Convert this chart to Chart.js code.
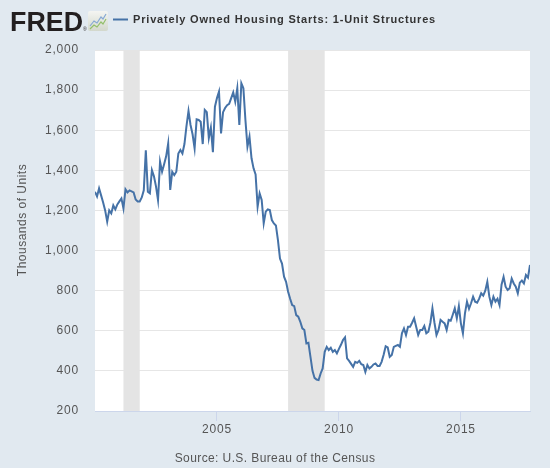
<!DOCTYPE html>
<html>
<head>
<meta charset="utf-8">
<script src="https://cdn.jsdelivr.net/npm/chart.js@4.4.0/dist/chart.umd.min.js"></script>
<style>
  html, body { margin: 0; padding: 0; background: #e1e9f0; }
  canvas { display: block; }
</style>
</head>
<body>
<canvas id="myChart" width="550" height="468"></canvas>
<script>
// monthly series, Jan 2000 .. Nov 2017 (thousands of units, SAAR)
const startYear = 2000;
const housingStarts = [
	1293, 1270, 1310, 1275, 1240, 1200, 1144, 1200, 1185, 1225, 1205, 1230, // 2000
	1245, 1260, 1210, 1305, 1290, 1300, 1295, 1290, 1255, 1245, 1245, 1265, // 2001
	1300, 1500, 1293, 1285, 1401, 1370, 1320, 1252, 1443, 1393, 1430, 1470, // 2002
	1534, 1302, 1393, 1376, 1393, 1484, 1501, 1484, 1531, 1620, 1696, 1626, // 2003
	1580, 1510, 1654, 1651, 1642, 1531, 1701, 1690, 1561, 1613, 1490, 1717, // 2004
	1760, 1792, 1584, 1690, 1711, 1725, 1731, 1760, 1789, 1742, 1809, 1626, // 2005
	1834, 1809, 1651, 1518, 1568, 1460, 1410, 1380, 1219, 1285, 1252, 1136, // 2006
	1194, 1205, 1202, 1152, 1135, 1125, 1052, 960, 935, 870, 844, 795,      // 2007
	760, 728, 723, 678, 670, 645, 612, 604, 537, 540, 470, 400,             // 2008
	365, 357, 354, 387, 412, 495, 520, 504, 515, 495, 504, 487,             // 2009
	510, 530, 554, 567, 462, 450, 435, 420, 445, 440, 450, 433,             // 2010
	429, 395, 429, 412, 420, 432, 437, 425, 425, 445, 480, 523,             // 2011
	517, 470, 479, 520, 525, 529, 520, 587, 612, 579, 620, 620,             // 2012
	640, 662, 620, 579, 604, 604, 624, 587, 595, 640, 712, 640,             // 2013
	579, 604, 654, 645, 637, 604, 654, 650, 680, 712, 662, 723,             // 2014
	637, 587, 687, 745, 710, 737, 770, 745, 740, 760, 787, 775,             // 2015
	800, 844, 770, 728, 770, 745, 760, 728, 830, 869, 820, 803,             // 2016
	812, 860, 836, 820, 787, 840, 850, 836, 878, 865, 928                   // 2017
];

// recessions as [start, end] in fractional years
const recessionStarts = [2001 + 2 / 12, 2007 + 11 / 12];
const recessionEnds = [2001 + 10 / 12, 2009 + 5 / 12];

const yearTicks = [2005, 2010, 2015];
const yMin = 200;
const yMax = 2000;
const yStep = 200;

const seriesTitle = 'Privately Owned Housing Starts: 1-Unit Structures';
const yTitle = 'Thousands of Units';
const sourceText = 'Source: U.S. Bureau of the Census';

const points = housingStarts.map((v, i) => ({ x: startYear + i / 12, y: v }));
const lastX = startYear + (housingStarts.length - 1) / 12;

const bgColor = '#e1e9f0';
const lineColor = '#4572a7';
const textColor = '#555555';

// draws background, recessions and the FRED header/footer
const fredDecor = {
	id: 'fredDecor',
	beforeDraw(chart) {
		const { ctx, chartArea } = chart;
		ctx.save();
		ctx.fillStyle = bgColor;
		ctx.fillRect(0, 0, chart.width, chart.height);
		ctx.fillStyle = '#ffffff';
		ctx.fillRect(chartArea.left, chartArea.top, chartArea.right - chartArea.left, chartArea.bottom - chartArea.top);
		ctx.restore();
		ctx.letterSpacing = '0.8px';
	},
	beforeDatasetsDraw(chart) {
		const { ctx, chartArea, scales } = chart;
		ctx.save();
		ctx.fillStyle = '#e4e4e4';
		recessionStarts.forEach((s, i) => {
			const x0 = scales.x.getPixelForValue(s);
			const x1 = scales.x.getPixelForValue(recessionEnds[i]);
			ctx.fillRect(x0, chartArea.top, x1 - x0, chartArea.bottom - chartArea.top);
		});
		ctx.restore();
	},
	afterDraw(chart) {
		const { ctx } = chart;
		ctx.save();

		// FRED logo
		ctx.letterSpacing = '0px';
		ctx.fillStyle = '#231f20';
		ctx.font = 'bold 27px "Liberation Sans", Arial, sans-serif';
		ctx.textBaseline = 'alphabetic';
		ctx.textAlign = 'left';
		const logoW = ctx.measureText('FRED').width;
		ctx.save();
		ctx.translate(10, 31);
		ctx.scale(73 / logoW, 1);
		ctx.fillText('FRED', 0, 0);
		ctx.restore();
		ctx.font = '5px "Liberation Sans", sans-serif';
		ctx.fillText('®', 83, 31);

		// small graph icon
		const g = ctx.createLinearGradient(0, 11, 0, 31);
		g.addColorStop(0, '#f4f5f2');
		g.addColorStop(1, '#d3d8cc');
		ctx.fillStyle = g;
		ctx.beginPath();
		ctx.roundRect(88, 11, 20, 20, 2);
		ctx.fill();
		ctx.lineWidth = 1.2;
		ctx.strokeStyle = '#86a9d3';
		ctx.beginPath();
		ctx.moveTo(90, 26); ctx.lineTo(94, 21); ctx.lineTo(97, 23); ctx.lineTo(101, 17); ctx.lineTo(103, 19); ctx.lineTo(106, 14);
		ctx.stroke();
		ctx.strokeStyle = '#93bf6b';
		ctx.beginPath();
		ctx.moveTo(90, 29); ctx.lineTo(94, 25); ctx.lineTo(97, 27); ctx.lineTo(101, 22); ctx.lineTo(103, 24); ctx.lineTo(106, 19);
		ctx.stroke();

		// legend line + series title
		ctx.strokeStyle = lineColor;
		ctx.lineWidth = 2;
		ctx.beginPath();
		ctx.moveTo(113, 19.5);
		ctx.lineTo(128, 19.5);
		ctx.stroke();

		ctx.fillStyle = '#333333';
		ctx.font = 'bold 11px "Liberation Sans", Arial, sans-serif';
		ctx.textBaseline = 'middle';
		const rawW = ctx.measureText(seriesTitle).width;
		const ls = (302 - rawW) / (seriesTitle.length - 1);
		ctx.letterSpacing = ls.toFixed(2) + 'px';
		ctx.fillText(seriesTitle, 133, 20);

		// y axis title
		ctx.letterSpacing = '0.5px';
		ctx.fillStyle = textColor;
		ctx.font = '12px "Liberation Sans", Arial, sans-serif';
		ctx.textAlign = 'center';
		ctx.save();
		ctx.translate(23, 220);
		ctx.rotate(-Math.PI / 2);
		ctx.fillText(yTitle, 0, 0);
		ctx.restore();

		// source
		ctx.letterSpacing = '0.4px';
		ctx.fillText(sourceText, 275, 459);

		ctx.restore();
		ctx.letterSpacing = '0.8px';
	}
};

const data = {
	datasets: [{
		label: seriesTitle,
		data: points,
		borderColor: lineColor,
		backgroundColor: lineColor,
		borderWidth: 2,
		pointRadius: 0,
		tension: 0
	}]
};

const config = {
	type: 'line',
	data,
	options: {
		responsive: false,
		animation: false,
		layout: { padding: { top: 50, right: 20, left: 0, bottom: 0 } },
		plugins: {
			legend: { display: false },
			tooltip: { enabled: false }
		},
		scales: {
			x: {
				type: 'linear',
				min: startYear,
				max: lastX,
				afterBuildTicks(scale) {
					scale.ticks = yearTicks.map(v => ({ value: v }));
				},
				afterFit(scale) {
					scale.height = 57;
				},
				ticks: {
					autoSkip: false,
					maxRotation: 0,
					padding: 1,
					color: textColor,
					font: { family: '"Liberation Sans", Arial, sans-serif', size: 12 },
					callback: v => String(v)
				},
				grid: {
					drawOnChartArea: false,
					drawTicks: true,
					tickLength: 10,
					tickColor: '#ccd6eb'
				},
				border: { color: '#ccd6eb', width: 1 }
			},
			y: {
				min: yMin,
				max: yMax,
				afterFit(scale) {
					scale.width = 95;
				},
				ticks: {
					stepSize: yStep,
					padding: 16,
					color: textColor,
					font: { family: '"Liberation Sans", Arial, sans-serif', size: 12 },
					callback: v => v.toLocaleString('en-US')
				},
				grid: {
					color: '#e6e6e6',
					drawTicks: false
				},
				border: { display: false }
			}
		}
	},
	plugins: [fredDecor]
};

const myChart = new Chart(document.getElementById('myChart'), config);
</script>
</body>
</html>
